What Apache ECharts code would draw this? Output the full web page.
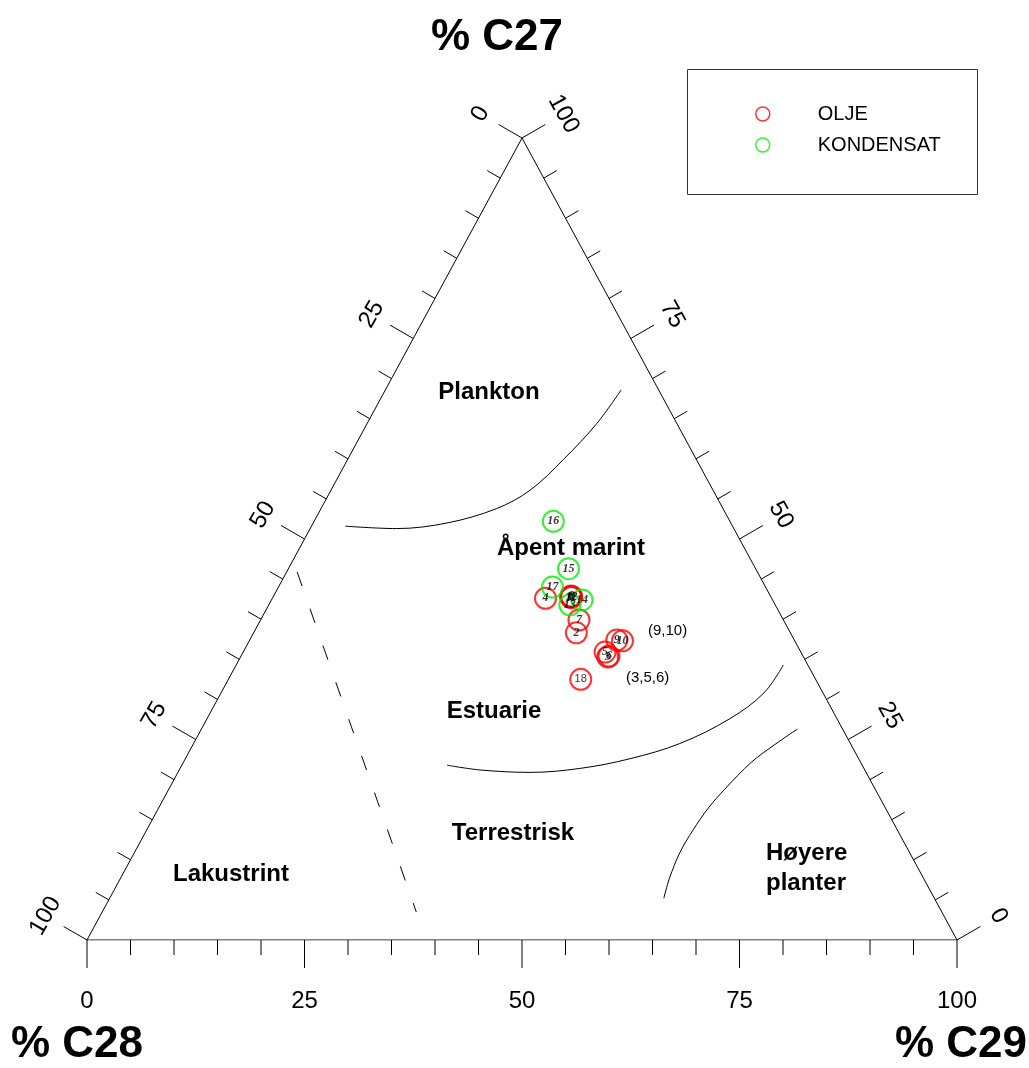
<!DOCTYPE html>
<html>
<head>
<meta charset="utf-8">
<script src="https://cdn.jsdelivr.net/npm/echarts@6/dist/echarts.min.js"></script>
<style>
  html, body { margin: 0; padding: 0; background: #ffffff; }
  #chart { width: 1029px; height: 1068px; }
</style>
</head>
<body>
<div id="chart"></div>
<script>
// Sterane composition of oils and condensates (% C27, % C28, % C29)
const oilIds = [1, 2, 3, 4, 5, 6, 7, 8, 9, 10, 11, 12, 18];
const oilC27 = [42.8, 38.3, 35.3, 42.6, 35.9, 35.4, 39.9, 42.9, 37.4, 37.3, 42.7, 42.8, 32.5];
const oilC28 = [23.0, 24.6, 22.5, 26.0, 22.5, 22.3, 23.5, 22.9, 20.4, 19.8, 23.0, 22.9, 27.0];
const oilC29 = [34.2, 37.1, 42.2, 31.4, 41.6, 42.3, 36.6, 34.2, 42.2, 42.9, 34.3, 34.3, 40.5];

const condIds = [13, 14, 15, 16, 17];
const condC27 = [41.8, 42.4, 46.3, 52.2, 44.0];
const condC28 = [23.6, 21.9, 21.5, 20.3, 24.5];
const condC29 = [34.6, 35.7, 32.2, 27.5, 31.5];

// Axis ticks (every 5 %, labelled every 25 %)
const tickValues = [0, 5, 10, 15, 20, 25, 30, 35, 40, 45, 50, 55, 60, 65, 70, 75, 80, 85, 90, 95, 100];
const labelStep = 25;

// Facies boundaries as [% C27, % C29] pairs
const planktonBoundary = [[51.6, 3.9], [51.3, 9.9], [52.0, 15.4], [53.8, 20.2], [56.1, 22.9], [59.9, 24.8], [64.4, 26.4], [68.6, 27.1]];
const estuaryBoundary = [[21.8, 30.5], [21.2, 34.6], [20.9, 40.5], [21.4, 46.0], [22.6, 51.1], [24.5, 55.9], [27.6, 60.1], [30.8, 62.4], [34.3, 62.9]];
const higherPlantBoundary = [[5.2, 63.7], [7.7, 63.1], [10.9, 62.7], [13.7, 62.8], [16.5, 63.2], [18.8, 63.9], [22.2, 65.3], [24.4, 66.9], [26.3, 68.5]];
const lacustrineBoundary = [[45.9, 1.2], [3.5, 36.1]];

const FONT = "'Liberation Sans', Arial, sans-serif";

// ternary (% C27, % C29) -> cartesian position inside the triangle
function tern(c27, c29) { return [c29 + c27 / 2, c27]; }

const triangle = [tern(0, 0), tern(0, 100), tern(100, 0), tern(0, 0)];

const tickData = [];
tickValues.forEach(function (v) {
  tickData.push(tern(0, v).concat([0, v]));        // bottom axis: % C29
  tickData.push(tern(100 - v, 0).concat([1, v]));  // left axis: % C28
  tickData.push(tern(v, 100 - v).concat([2, v]));  // right axis: % C27
});

const TICK_DIR = [[0, 1], [-0.866, -0.5], [0.866, -0.5]];
const LABEL_ROT = [0, 60, -61];

function renderTick(params, api) {
  const p = api.coord([api.value(0), api.value(1)]);
  const side = api.value(2);
  const v = api.value(3);
  const major = v % labelStep === 0;
  const d = TICK_DIR[side];
  const len = major ? (side === 0 ? 28 : 27) : 15;
  const children = [{
    type: 'line',
    shape: { x1: p[0], y1: p[1], x2: p[0] + d[0] * len, y2: p[1] + d[1] * len },
    style: { stroke: '#000', lineWidth: 1 }
  }];
  if (major) {
    const off = side === 0 ? 61 : 48;
    children.push({
      type: 'text',
      x: p[0] + d[0] * off,
      y: p[1] + d[1] * off,
      rotation: LABEL_ROT[side] * Math.PI / 180,
      style: { text: String(v), font: '24px ' + FONT, fill: '#000', align: 'center', verticalAlign: 'middle' }
    });
  }
  return { type: 'group', children: children };
}

function sampleData(ids, c27, c29) {
  return ids.map(function (id, i) {
    const item = { name: String(id), value: tern(c27[i], c29[i]) };
    if (id === 18) {
      item.label = { fontFamily: FONT, fontStyle: 'normal', fontWeight: 'normal', fontSize: 11 };
    }
    return item;
  });
}

const pointLabel = {
  show: true, position: 'inside', formatter: '{b}', color: '#000',
  fontFamily: "'Liberation Serif', 'Times New Roman', serif",
  fontStyle: 'italic', fontWeight: 'bold', fontSize: 12
};

function boundary(points, dashed) {
  return {
    type: 'line', data: points.map(function (p) { return tern(p[0], p[1]); }),
    smooth: dashed ? false : 0.35, showSymbol: false, silent: true,
    lineStyle: { color: '#000', width: 1, type: dashed ? [15, 24] : 'solid' }
  };
}

function label(text, x, y, opts) {
  return Object.assign({
    type: 'text', x: x, y: y,
    style: { text: text, font: 'bold 24px ' + FONT, fill: '#000', align: 'center', verticalAlign: 'middle' }
  }, opts || {});
}

const chart = echarts.init(document.getElementById('chart'), null, { renderer: 'canvas' });
chart.setOption({
  animation: false,
  backgroundColor: '#ffffff',
  grid: { left: 87, top: 138, width: 870, height: 802 },
  xAxis: { type: 'value', min: 0, max: 100, show: false },
  yAxis: { type: 'value', min: 0, max: 100, show: false },
  legend: {
    left: 755, top: 104, orient: 'vertical', padding: 0,
    itemWidth: 14, itemHeight: 14, itemGap: 11,
    selectedMode: false,
    textStyle: { fontFamily: FONT, fontSize: 20, color: '#000', padding: [0, 0, 0, 43] },
    data: [
      { name: 'OLJE', icon: 'circle', itemStyle: { color: 'rgba(0,0,0,0)', borderColor: '#ff0000', borderWidth: 1.5 } },
      { name: 'KONDENSAT', icon: 'circle', itemStyle: { color: 'rgba(0,0,0,0)', borderColor: '#00ee00', borderWidth: 1.5 } }
    ]
  },
  graphic: [
    { type: 'rect', shape: { x: 687.5, y: 69.5, width: 290, height: 125 }, style: { fill: 'none', stroke: '#333', lineWidth: 1 }, z: 0 },
    label('% C27', 497, 38, { style: { text: '% C27', font: 'bold 44px ' + FONT, fill: '#000', align: 'center', verticalAlign: 'middle' } }),
    label('% C28', 77, 1045, { style: { text: '% C28', font: 'bold 44px ' + FONT, fill: '#000', align: 'center', verticalAlign: 'middle' } }),
    label('% C29', 961, 1045, { style: { text: '% C29', font: 'bold 44px ' + FONT, fill: '#000', align: 'center', verticalAlign: 'middle' } }),
    label('Plankton', 489, 392),
    label('Åpent marint', 571, 548),
    label('Estuarie', 494, 711),
    label('Terrestrisk', 513, 833),
    label('Lakustrint', 231, 874),
    label('Høyere', 766, 853, { style: { text: 'Høyere', font: 'bold 24px ' + FONT, fill: '#000', align: 'left', verticalAlign: 'middle' } }),
    label('planter', 766, 883, { style: { text: 'planter', font: 'bold 24px ' + FONT, fill: '#000', align: 'left', verticalAlign: 'middle' } }),
    label('(9,10)', 648, 631, { style: { text: '(9,10)', font: '15px ' + FONT, fill: '#000', align: 'left', verticalAlign: 'middle' } }),
    label('(3,5,6)', 626, 678, { style: { text: '(3,5,6)', font: '15px ' + FONT, fill: '#000', align: 'left', verticalAlign: 'middle' } })
  ],
  series: [
    {
      type: 'line', data: triangle, showSymbol: false, silent: true,
      lineStyle: { color: '#000', width: 1 }
    },
    {
      type: 'custom', data: tickData, renderItem: renderTick, silent: true, clip: false
    },
    boundary(planktonBoundary, false),
    boundary(estuaryBoundary, false),
    boundary(higherPlantBoundary, false),
    boundary(lacustrineBoundary, true),
    {
      type: 'scatter', name: 'OLJE', symbol: 'circle', symbolSize: 21,
      itemStyle: { color: 'rgba(0,0,0,0)', borderColor: '#ff0000', borderWidth: 2 },
      label: pointLabel,
      emphasis: { disabled: true },
      data: sampleData(oilIds, oilC27, oilC29)
    },
    {
      type: 'scatter', name: 'KONDENSAT', symbol: 'circle', symbolSize: 21,
      itemStyle: { color: 'rgba(0,0,0,0)', borderColor: '#00ee00', borderWidth: 2 },
      label: pointLabel,
      emphasis: { disabled: true },
      data: sampleData(condIds, condC27, condC29)
    }
  ]
});
</script>
</body>
</html>
